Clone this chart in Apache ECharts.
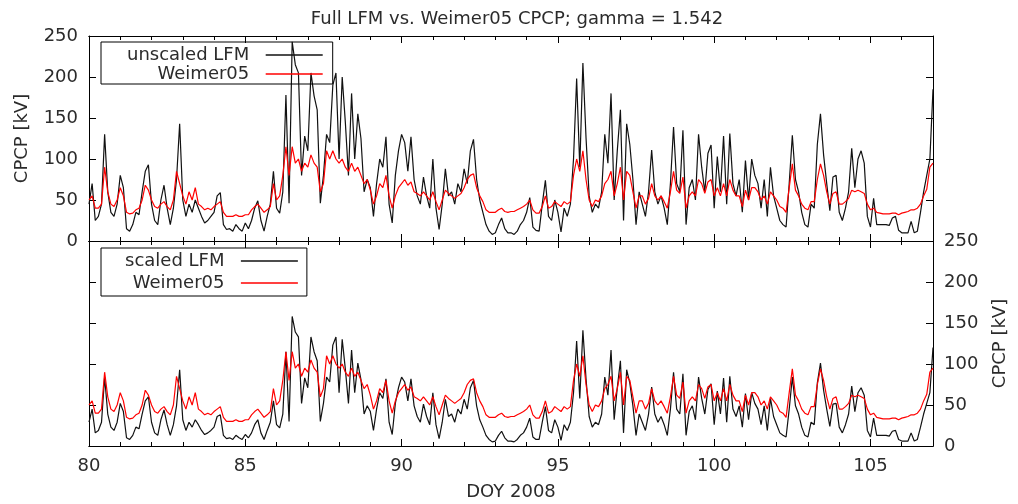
<!DOCTYPE html>
<html>
<head>
<meta charset="utf-8">
<title>Full LFM vs. Weimer05 CPCP</title>
<script src="https://cdn.jsdelivr.net/npm/echarts@6/dist/echarts.min.js"></script>
<style>
  html, body { margin: 0; padding: 0; background: #fff; }
  #chart { width: 1018px; height: 504px; }
</style>
</head>
<body>
<div id="chart"></div>
<script>
// Cross polar cap potential, DOY 80-107 of 2008, sampled every 0.1 day
const sampleStart = 80.0;
const sampleStep = 0.1;
const gamma = 1.542;

// Full LFM CPCP [kV], unscaled
const unscaledLFM = [
  45, 70, 25, 30, 45, 130, 60, 35, 30, 45,
  80, 65, 15, 12, 20, 35, 32, 60, 85, 93,
  45, 25, 20, 50, 68, 40, 20, 40, 75, 143,
  50, 30, 45, 35, 50, 40, 30, 22, 25, 30,
  35, 55, 59, 20, 14, 15, 12, 20, 15, 12,
  22, 15, 25, 40, 49, 25, 12, 30, 45, 85,
  40, 34, 60, 178, 46, 243, 215, 205, 80, 128,
  110, 205, 177, 160, 46, 80, 130, 120, 190, 205,
  100, 200, 145, 80, 180, 100, 155, 125, 60, 75,
  65, 30, 70, 100, 90, 127, 45, 22, 80, 110,
  130, 120, 85, 127, 75, 55, 45, 78, 55, 40,
  100, 40, 14, 45, 88, 55, 60, 45, 70, 60,
  88, 70, 110, 124, 75, 50, 35, 20, 12, 8,
  10, 20, 28, 15, 10, 10, 8, 12, 20, 25,
  35, 53, 17, 13, 12, 45, 74, 30, 25, 50,
  35, 11, 40, 30, 45, 100, 198, 90, 217, 126,
  55, 35, 45, 40, 60, 130, 95, 180, 50, 110,
  160, 25, 143, 118, 75, 20, 60, 45, 30, 60,
  111, 60, 45, 55, 40, 20, 70, 139, 70, 60,
  135, 20, 65, 75, 50, 130, 90, 60, 107, 117,
  40, 103, 60, 128, 45, 131, 70, 55, 75, 35,
  98, 50, 100, 80, 70, 40, 75, 30, 90, 55,
  40, 25, 20, 17, 70, 129, 75, 60, 35, 20,
  17, 45, 40, 118, 155, 105, 70, 37, 78, 80,
  35, 25, 40, 60, 113, 65, 100, 110, 95, 30,
  17, 52, 20, 20, 20, 20, 19, 28, 30, 13,
  10, 10, 10, 24, 10, 12, 35, 60, 80, 100,
  185
];

// Full LFM CPCP [kV], scaled
const scaledLFM = [
  29, 45, 16, 19, 29, 84, 39, 23, 19, 29,
  52, 42, 10, 8, 13, 23, 21, 39, 55, 60,
  29, 16, 13, 32, 44, 26, 13, 26, 49, 93,
  32, 19, 29, 23, 32, 26, 19, 14, 16, 19,
  23, 36, 38, 13, 9, 10, 8, 13, 10, 8,
  14, 10, 16, 26, 32, 16, 8, 19, 29, 55,
  26, 22, 39, 115, 30, 158, 139, 133, 52, 83,
  71, 133, 115, 104, 30, 52, 84, 78, 123, 133,
  65, 130, 94, 52, 117, 65, 101, 81, 39, 49,
  42, 19, 45, 65, 58, 82, 29, 14, 52, 71,
  84, 78, 55, 82, 49, 36, 29, 51, 36, 26,
  65, 26, 9, 29, 57, 36, 39, 29, 45, 39,
  57, 45, 71, 80, 49, 32, 23, 13, 8, 5,
  6, 13, 18, 10, 6, 6, 5, 8, 13, 16,
  23, 34, 11, 8, 8, 29, 48, 19, 16, 32,
  23, 7, 26, 19, 29, 65, 128, 58, 141, 82,
  36, 23, 29, 26, 39, 84, 62, 117, 32, 71,
  104, 16, 93, 77, 49, 13, 39, 29, 19, 39,
  72, 39, 29, 36, 26, 13, 45, 90, 45, 39,
  88, 13, 42, 49, 32, 84, 58, 39, 69, 76,
  26, 67, 39, 83, 29, 85, 45, 36, 49, 23,
  64, 32, 65, 52, 45, 26, 49, 19, 58, 36,
  26, 16, 13, 11, 45, 84, 49, 39, 23, 13,
  11, 29, 26, 77, 101, 68, 45, 24, 51, 52,
  23, 16, 26, 39, 73, 42, 65, 71, 62, 19,
  11, 34, 13, 13, 13, 13, 12, 18, 19, 8,
  6, 6, 6, 16, 6, 8, 23, 39, 52, 65,
  120
];

// Weimer05 empirical model CPCP [kV]
const weimer05 = [
  50, 55, 40, 40, 45, 90, 60, 45, 42, 50,
  65, 55, 35, 33, 34, 38, 40, 50, 68, 62,
  50, 42, 40, 45, 48, 42, 38, 50, 85, 70,
  55, 45, 60, 50, 65, 45, 42, 38, 40, 38,
  42, 45, 48, 35, 30, 30, 30, 32, 30, 30,
  32, 32, 38, 42, 45, 40, 35, 38, 42, 70,
  50, 55, 80, 115, 80, 115, 95, 100, 85, 95,
  90, 105, 95, 90, 60, 70, 110, 100, 110, 100,
  95, 100, 90, 85, 95, 85, 90, 80, 70, 75,
  62, 45, 55, 70, 65, 80, 55, 40, 55, 65,
  70, 75, 68, 72, 60, 58, 55, 60, 55, 50,
  60, 48, 38, 50, 62, 58, 55, 52, 55, 58,
  65, 75, 80, 82, 65, 55, 48, 38, 35, 35,
  35, 38, 40, 36, 35, 36, 36, 38, 40, 42,
  45, 50, 38, 34, 34, 42, 55, 40, 42, 48,
  45, 42, 48, 45, 48, 80, 100, 85, 110, 75,
  50, 42, 50, 48, 55, 70, 75, 85, 55, 70,
  90, 50, 85, 80, 60, 40, 55, 55, 45, 52,
  70, 55, 50, 55, 48, 40, 60, 85, 62, 58,
  78, 40, 55, 60, 55, 75, 70, 58, 72, 75,
  55, 65, 55, 70, 55, 75, 62, 55, 55, 42,
  62, 50, 65, 65, 60, 50, 55, 45, 60, 55,
  50, 42, 40, 35, 65, 94, 62, 55, 45, 40,
  38, 48, 48, 75, 94, 80, 60, 45, 58, 60,
  45, 45, 48, 52, 62, 60, 62, 60, 58, 45,
  38, 40, 35, 34, 33, 33, 33, 34, 34, 32,
  34, 35, 36, 38, 38, 40, 45, 55, 63, 90,
  95
];

const yTicks = [0, 50, 100, 150, 200, 250];
const xTickLabels = [80, 85, 90, 95, 100, 105];

const FONT = 'DejaVu Sans';
const TEXT = '#2b2b2b';

function pairs(values) {
  return values.map((v, i) => [sampleStart + i * sampleStep, v]);
}

function xAxisCfg(gridIndex, position, interval, tickLen, withLabels) {
  return {
    type: 'value', gridIndex, position,
    min: xTickLabels[0], max: 107, interval,
    axisLine: { show: true, onZero: false, lineStyle: { color: '#000', width: 1 } },
    axisTick: { show: true, inside: true, length: tickLen, lineStyle: { color: '#000', width: 1 } },
    axisLabel: withLabels ? {
      show: true, margin: 11, color: TEXT, fontFamily: FONT, fontSize: 18,
      showMaxLabel: false,
      formatter: v => (xTickLabels.indexOf(v) >= 0 ? String(v) : '')
    } : { show: false },
    splitLine: { show: false },
    name: withLabels ? 'DOY 2008' : '',
    nameLocation: 'middle', nameGap: 37,
    nameTextStyle: { color: TEXT, fontFamily: FONT, fontSize: 18 }
  };
}

function yAxisCfg(gridIndex, position, withLabels) {
  return {
    type: 'value', gridIndex, position,
    min: yTicks[0], max: yTicks[yTicks.length - 1], interval: 50,
    axisLine: { show: true, lineStyle: { color: '#000', width: 1 } },
    axisTick: { show: true, inside: true, length: 7, lineStyle: { color: '#000', width: 1 } },
    axisLabel: withLabels ? {
      show: true, margin: 11, color: TEXT, fontFamily: FONT, fontSize: 18
    } : { show: false },
    splitLine: { show: false },
    name: withLabels ? 'CPCP [kV]' : '',
    nameLocation: 'middle', nameGap: 58, nameRotate: 90,
    nameTextStyle: { color: TEXT, fontFamily: FONT, fontSize: 18 }
  };
}

function lineSeries(name, values, color, xIdx, yIdx) {
  return {
    name, type: 'line', xAxisIndex: xIdx, yAxisIndex: yIdx,
    data: pairs(values), showSymbol: false, symbol: 'none',
    color, lineStyle: { color, width: 1.2 }, itemStyle: { color },
    animation: false, z: 2
  };
}

// gnuplot-style key: label right-justified, sample line to its right
function keyCfg(top, padding, itemGap, names) {
  return {
    orient: 'vertical', align: 'right', left: 101, top,
    padding, itemGap, itemWidth: 57, itemHeight: 1.5,
    icon: 'rect', borderColor: '#000', borderWidth: 1,
    selectedMode: false,
    data: names,
    formatter: name => name + '\u00a0\u00a0',
    textStyle: { color: TEXT, fontFamily: FONT, fontSize: 18 }
  };
}

const chart = echarts.init(document.getElementById('chart'), null, { renderer: 'canvas' });

const option = {
  animation: false,
  backgroundColor: '#fff',
  title: {
    text: 'Full LFM vs. Weimer05 CPCP; gamma = 1.542',
    left: 512, textAlign: 'center', top: 5,
    textStyle: { color: TEXT, fontFamily: FONT, fontSize: 18, fontWeight: 'normal' }
  },
  grid: [
    { left: 89, top: 36, width: 844, height: 205 },
    { left: 89, top: 241, width: 844, height: 205 }
  ],
  xAxis: [
    xAxisCfg(0, 'bottom', 5, 7, false),
    xAxisCfg(0, 'bottom', 1, 4, false),
    xAxisCfg(0, 'top', 5, 7, false),
    xAxisCfg(0, 'top', 1, 4, false),
    xAxisCfg(1, 'bottom', 5, 7, true),
    xAxisCfg(1, 'bottom', 1, 4, false),
    xAxisCfg(1, 'top', 5, 7, false),
    xAxisCfg(1, 'top', 1, 4, false)
  ],
  yAxis: [
    yAxisCfg(0, 'left', true),
    yAxisCfg(0, 'right', false),
    yAxisCfg(1, 'right', true),
    yAxisCfg(1, 'left', false)
  ],
  legend: [
    keyCfg(42, [4, 10, 1, 26], 1, ['unscaled LFM', 'Weimer05']),
    keyCfg(248, [4, 9, 4, 24], 4, ['scaled LFM', 'Weimer05'])
  ],
  series: [
    lineSeries('unscaled LFM', unscaledLFM, '#111', 0, 0),
    lineSeries('Weimer05', weimer05, '#ff0000', 0, 0),
    lineSeries('scaled LFM', scaledLFM, '#111', 4, 2),
    lineSeries('Weimer05', weimer05, '#ff0000', 4, 2)
  ]
};

chart.setOption(option);
</script>
</body>
</html>
